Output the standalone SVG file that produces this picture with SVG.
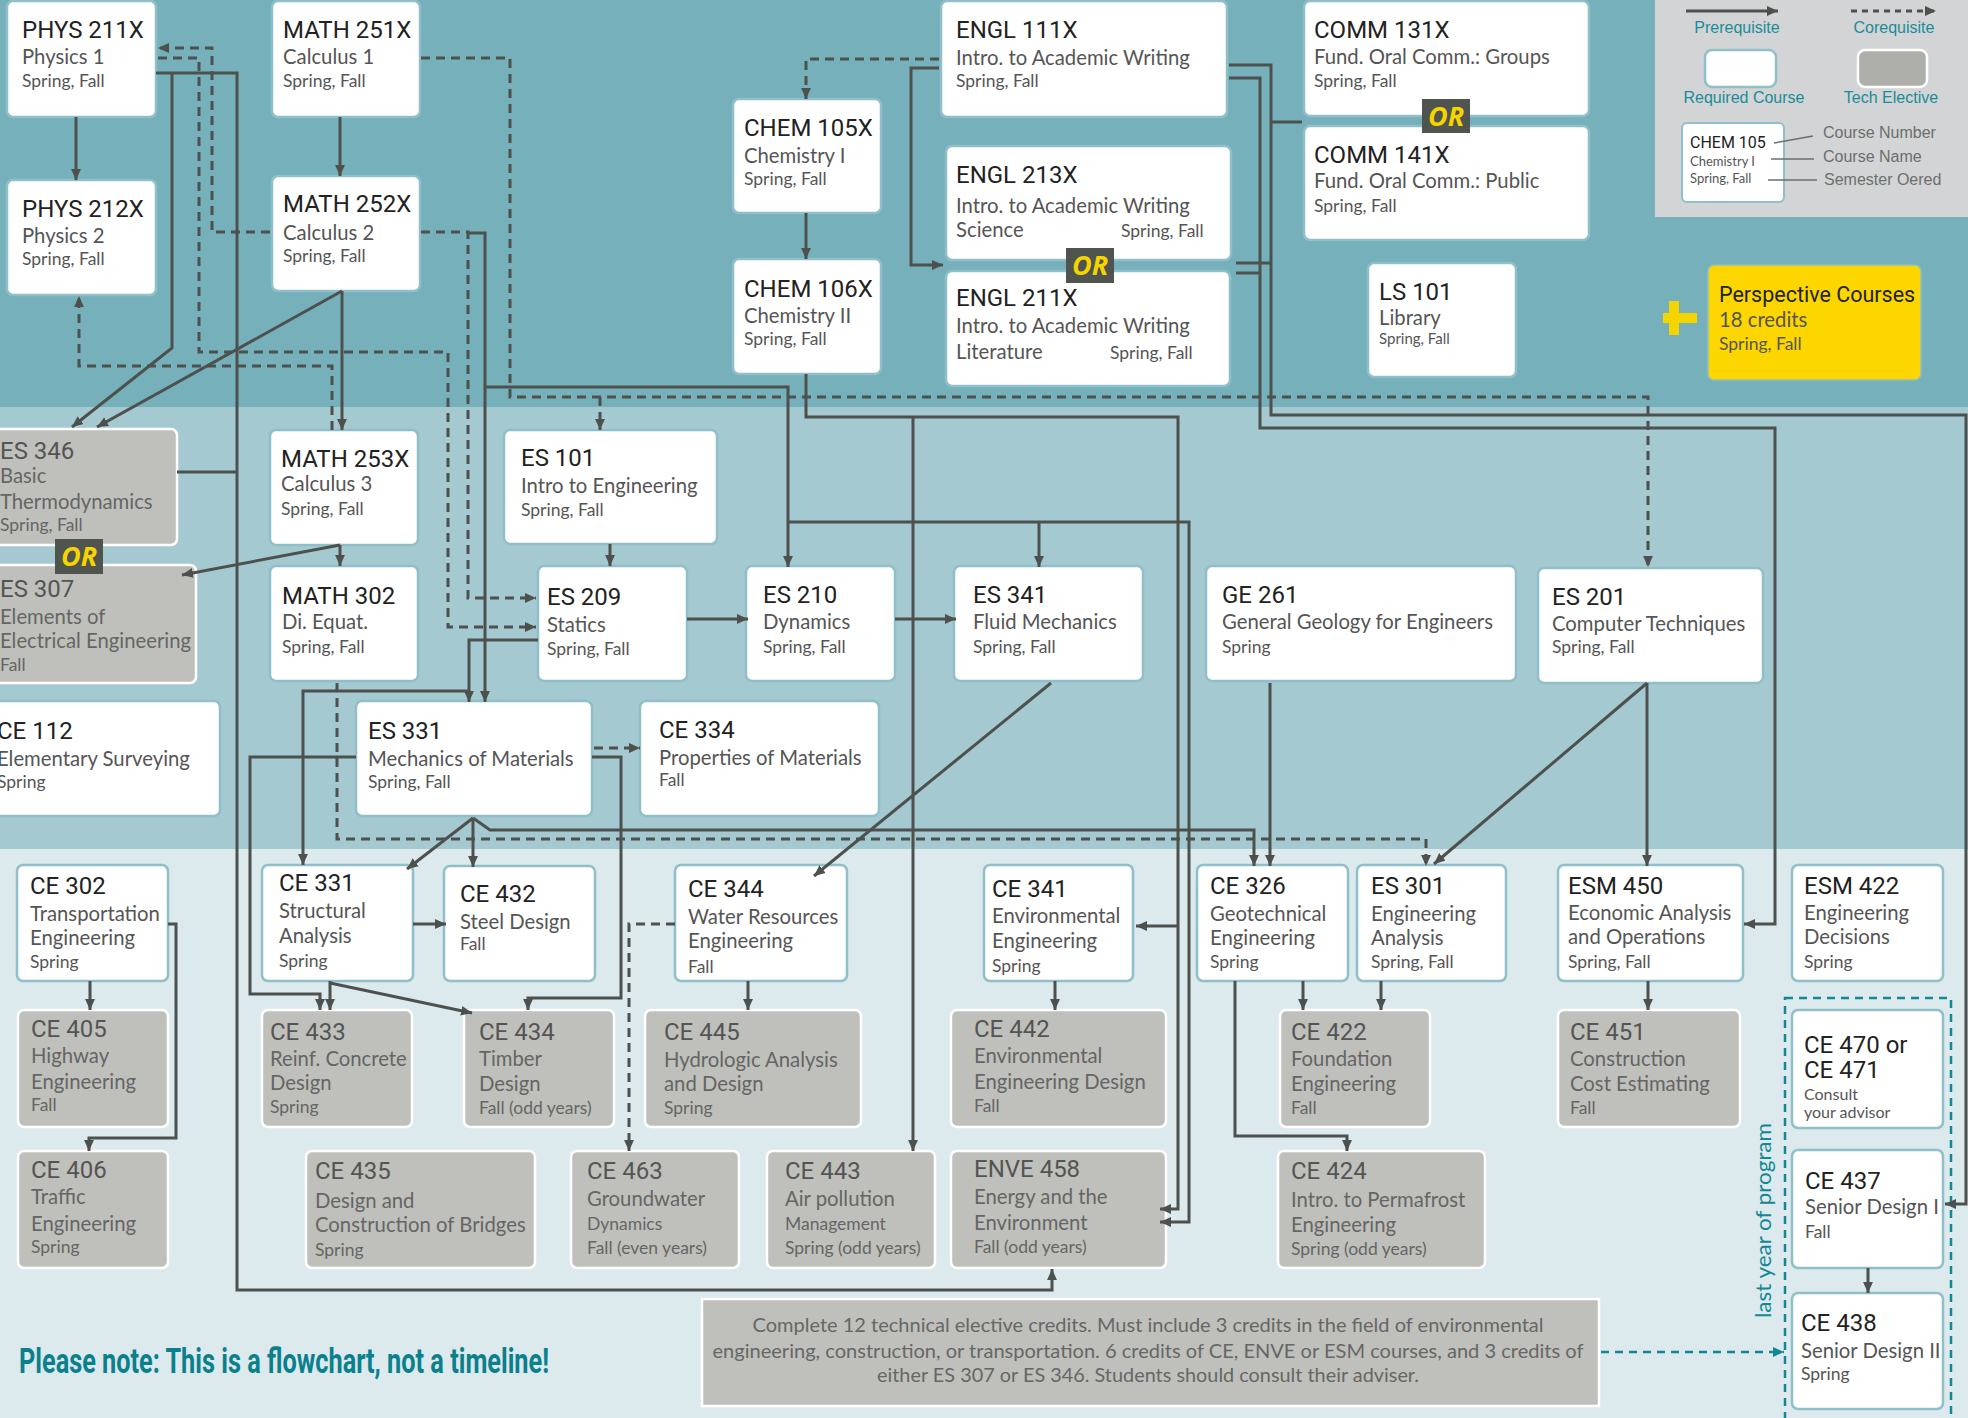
<svg xmlns="http://www.w3.org/2000/svg" width="1968" height="1418" viewBox="0 0 1968 1418">
<defs>
<style>
.n rect{fill:#fff;stroke:#8fbfc8;stroke-width:2.5}
.g rect{fill:#bfc0bb;stroke:#fff;stroke-width:2.5}
.t{font-family:Roboto,"Liberation Sans",sans-serif;font-size:24px;fill:#222}
.s{font-family:Lato,"Liberation Sans",sans-serif;font-size:20.3px;fill:#555}
.m{font-family:Lato,"Liberation Sans",sans-serif;font-size:17.5px;fill:#555}
.g .t{fill:#545454}
.g .s,.g .m{fill:#656565}
.or rect{fill:#4f544f}
.or text{font-family:"Open Sans","Liberation Sans",sans-serif;font-weight:700;font-style:italic;font-size:27px;fill:#f5d400}
.c path,.c line{fill:none;stroke:#4d514e;stroke-width:3}
.c .d{stroke-dasharray:9 6}
.lg{font-family:"Liberation Sans",Arial,sans-serif;font-size:16px;fill:#1a8c98}
.lk{font-family:"Liberation Sans",Arial,sans-serif;font-size:16px;fill:#6b6e6e}
.note{font-family:Lato,"Liberation Sans",sans-serif;font-size:20px;fill:#666}
</style>
<marker id="a" viewBox="0 0 10 10" refX="10" refY="5" markerWidth="11" markerHeight="11" markerUnits="userSpaceOnUse" orient="auto"><path d="M0,0.5 L10,5 L0,9.5 z" fill="#4d514e"/></marker>
<marker id="at" viewBox="0 0 10 10" refX="10" refY="5" markerWidth="11" markerHeight="11" markerUnits="userSpaceOnUse" orient="auto"><path d="M0,0.5 L10,5 L0,9.5 z" fill="#138894"/></marker>
</defs>

<rect x="0" y="0" width="1968" height="407" fill="#75b0bb"/>
<rect x="0" y="407" width="1968" height="442" fill="#a5c9d0"/>
<rect x="0" y="849" width="1968" height="569" fill="#dce9ed"/>

<g id="legend">
<rect x="1655" y="0" width="313" height="217" fill="#d3d4d5"/>
<line x1="1686" y1="11" x2="1778" y2="11" stroke="#4d514e" stroke-width="3" marker-end="url(#a)"/>
<line x1="1851" y1="11" x2="1936" y2="11" stroke="#4d514e" stroke-width="3" stroke-dasharray="6 5" marker-end="url(#a)"/>
<text class="lg" x="1737" y="33" text-anchor="middle">Prerequisite</text>
<text class="lg" x="1894" y="33" text-anchor="middle">Corequisite</text>
<rect x="1705" y="50" width="71" height="37" rx="7" fill="#fff" stroke="#8fbfc8" stroke-width="2.5"/>
<rect x="1858" y="50" width="69" height="37" rx="7" fill="#aeafaa" stroke="#fff" stroke-width="2.5"/>
<text class="lg" x="1744" y="103" text-anchor="middle">Required Course</text>
<text class="lg" x="1891" y="103" text-anchor="middle">Tech Elective</text>
<rect x="1682" y="123" width="102" height="79" rx="5" fill="#fff" stroke="#8fbfc8" stroke-width="2"/>
<text x="1690" y="148" font-family="Roboto,sans-serif" font-size="16" fill="#222">CHEM 105</text>
<text x="1690" y="166" font-family="Lato,sans-serif" font-size="13" fill="#555">Chemistry I</text>
<text x="1690" y="183" font-family="Lato,sans-serif" font-size="13" fill="#555">Spring, Fall</text>
<line x1="1774" y1="143" x2="1813" y2="136" stroke="#6b6e6e" stroke-width="1.5"/>
<line x1="1771" y1="159" x2="1814" y2="159" stroke="#6b6e6e" stroke-width="1.5"/>
<line x1="1768" y1="180" x2="1817" y2="180" stroke="#6b6e6e" stroke-width="1.5"/>
<text class="lk" x="1823" y="138">Course Number</text>
<text class="lk" x="1823" y="162">Course Name</text>
<text class="lk" x="1824" y="185">Semester Oered</text>
</g>

<rect id="last-year-frame" x="1785" y="998" width="166" height="430" fill="none" stroke="#138894" stroke-width="2.5" stroke-dasharray="8 6"/>
<text transform="translate(1771,1318) rotate(-90)" font-family="Lato,sans-serif" font-size="22" fill="#138894" textLength="195" lengthAdjust="spacingAndGlyphs">last year of program</text>

<!-- Top band nodes -->
<g id="phys211x" class="n"><rect x="7" y="1" width="149" height="116" rx="6"/><text class="t" x="22" y="38">PHYS 211X</text><text class="s" x="22" y="64">Physics 1</text><text class="m" x="22" y="87">Spring, Fall</text></g>
<g id="phys212x" class="n"><rect x="7" y="180" width="149" height="115" rx="6"/><text class="t" x="22" y="217">PHYS 212X</text><text class="s" x="22" y="243">Physics 2</text><text class="m" x="22" y="265">Spring, Fall</text></g>
<g id="math251x" class="n"><rect x="272" y="1" width="148" height="116" rx="6"/><text class="t" x="283" y="38">MATH 251X</text><text class="s" x="283" y="64">Calculus 1</text><text class="m" x="283" y="87">Spring, Fall</text></g>
<g id="math252x" class="n"><rect x="272" y="176" width="148" height="115" rx="6"/><text class="t" x="283" y="212">MATH 252X</text><text class="s" x="283" y="240">Calculus 2</text><text class="m" x="283" y="262">Spring, Fall</text></g>
<g id="chem105x" class="n"><rect x="733" y="99" width="148" height="114" rx="6"/><text class="t" x="744" y="136">CHEM 105X</text><text class="s" x="744" y="163">Chemistry I</text><text class="m" x="744" y="185">Spring, Fall</text></g>
<g id="chem106x" class="n"><rect x="733" y="259" width="148" height="115" rx="6"/><text class="t" x="744" y="297">CHEM 106X</text><text class="s" x="744" y="323">Chemistry II</text><text class="m" x="744" y="345">Spring, Fall</text></g>
<g id="engl111x" class="n"><rect x="941" y="1" width="286" height="116" rx="6"/><text class="t" x="956" y="38">ENGL 111X</text><text class="s" x="956" y="65">Intro. to Academic Writing</text><text class="m" x="956" y="87">Spring, Fall</text></g>
<g id="engl213x" class="n"><rect x="946" y="146" width="285" height="114" rx="6"/><text class="t" x="956" y="183">ENGL 213X</text><text class="s" x="956" y="213">Intro. to Academic Writing</text><text class="s" x="956" y="237">Science</text><text class="m" x="1121" y="237">Spring, Fall</text></g>
<g id="engl211x" class="n"><rect x="946" y="271" width="284" height="115" rx="6"/><text class="t" x="956" y="306">ENGL 211X</text><text class="s" x="956" y="333">Intro. to Academic Writing</text><text class="s" x="956" y="359">Literature</text><text class="m" x="1110" y="359">Spring, Fall</text></g>
<g id="comm131x" class="n"><rect x="1304" y="1" width="285" height="115" rx="6"/><text class="t" x="1314" y="38">COMM 131X</text><text class="s" x="1314" y="64">Fund. Oral Comm.: Groups</text><text class="m" x="1314" y="87">Spring, Fall</text></g>
<g id="comm141x" class="n"><rect x="1304" y="126" width="285" height="114" rx="6"/><text class="t" x="1314" y="163">COMM 141X</text><text class="s" x="1314" y="188">Fund. Oral Comm.: Public</text><text class="m" x="1314" y="212">Spring, Fall</text></g>
<g id="ls101" class="n"><rect x="1368" y="263" width="148" height="114" rx="6"/><text class="t" x="1379" y="300">LS 101</text><text class="s" x="1379" y="325">Library</text><text class="m" x="1379" y="344" style="font-size:15px">Spring, Fall</text></g>
<g id="perspective">
<rect x="1663" y="313" width="34" height="10" fill="#f5d500"/><rect x="1669" y="301" width="10" height="34" fill="#f5d500"/>
<rect x="1708" y="265" width="213" height="115" rx="6" fill="#fdd600" stroke="#8fbfc8" stroke-width="1.5"/>
<text class="t" x="1719" y="302" style="font-size:21.5px">Perspective Courses</text><text class="s" x="1719" y="327">18 credits</text><text class="m" x="1719" y="350">Spring, Fall</text></g>

<!-- Middle band nodes -->
<g id="es346" class="g"><rect x="-10" y="429" width="187" height="116" rx="6"/><text class="t" x="0" y="459">ES 346</text><text class="s" x="0" y="483">Basic</text><text class="s" x="0" y="509">Thermodynamics</text><text class="m" x="0" y="531">Spring, Fall</text></g>
<g id="math253x" class="n"><rect x="270" y="430" width="148" height="115" rx="6"/><text class="t" x="281" y="467">MATH 253X</text><text class="s" x="281" y="491">Calculus 3</text><text class="m" x="281" y="515">Spring, Fall</text></g>
<g id="es101" class="n"><rect x="504" y="430" width="213" height="114" rx="6"/><text class="t" x="521" y="466">ES 101</text><text class="s" x="521" y="493">Intro to Engineering</text><text class="m" x="521" y="516">Spring, Fall</text></g>
<g id="es307" class="g"><rect x="-10" y="565" width="206" height="118" rx="6"/><text class="t" x="0" y="597">ES 307</text><text class="s" x="0" y="624">Elements of</text><text class="s" x="0" y="648">Electrical Engineering</text><text class="m" x="0" y="671">Fall</text></g>
<g id="math302" class="n"><rect x="270" y="566" width="148" height="115" rx="6"/><text class="t" x="282" y="604">MATH 302</text><text class="s" x="282" y="629">Di. Equat.</text><text class="m" x="282" y="653">Spring, Fall</text></g>
<g id="es209" class="n"><rect x="538" y="566" width="149" height="115" rx="6"/><text class="t" x="547" y="605">ES 209</text><text class="s" x="547" y="632">Statics</text><text class="m" x="547" y="655">Spring, Fall</text></g>
<g id="es210" class="n"><rect x="746" y="566" width="149" height="115" rx="6"/><text class="t" x="763" y="603">ES 210</text><text class="s" x="763" y="629">Dynamics</text><text class="m" x="763" y="653">Spring, Fall</text></g>
<g id="es341" class="n"><rect x="954" y="566" width="189" height="115" rx="6"/><text class="t" x="973" y="603">ES 341</text><text class="s" x="973" y="629">Fluid Mechanics</text><text class="m" x="973" y="653">Spring, Fall</text></g>
<g id="ge261" class="n"><rect x="1206" y="566" width="310" height="115" rx="6"/><text class="t" x="1222" y="603">GE 261</text><text class="s" x="1222" y="629">General Geology for Engineers</text><text class="m" x="1222" y="653">Spring</text></g>
<g id="es201" class="n"><rect x="1538" y="568" width="225" height="115" rx="6"/><text class="t" x="1552" y="605">ES 201</text><text class="s" x="1552" y="631">Computer Techniques</text><text class="m" x="1552" y="653">Spring, Fall</text></g>
<g id="ce112" class="n"><rect x="-10" y="701" width="230" height="115" rx="6"/><text class="t" x="-3" y="739">CE 112</text><text class="s" x="-3" y="766">Elementary Surveying</text><text class="m" x="-3" y="788">Spring</text></g>
<g id="es331" class="n"><rect x="356" y="701" width="236" height="115" rx="6"/><text class="t" x="368" y="739">ES 331</text><text class="s" x="368" y="766">Mechanics of Materials</text><text class="m" x="368" y="788">Spring, Fall</text></g>
<g id="ce334" class="n"><rect x="640" y="701" width="239" height="115" rx="6"/><text class="t" x="659" y="738">CE 334</text><text class="s" x="659" y="765">Properties of Materials</text><text class="m" x="659" y="786">Fall</text></g>

<!-- Bottom band nodes -->
<g id="ce302" class="n"><rect x="17" y="865" width="151" height="116" rx="6"/><text class="t" x="30" y="894">CE 302</text><text class="s" x="30" y="921">Transportation</text><text class="s" x="30" y="945">Engineering</text><text class="m" x="30" y="968">Spring</text></g>
<g id="ce331" class="n"><rect x="262" y="865" width="151" height="116" rx="6"/><text class="t" x="279" y="891">CE 331</text><text class="s" x="279" y="918">Structural</text><text class="s" x="279" y="943">Analysis</text><text class="m" x="279" y="967">Spring</text></g>
<g id="ce432" class="n"><rect x="444" y="866" width="151" height="115" rx="6"/><text class="t" x="460" y="902">CE 432</text><text class="s" x="460" y="929">Steel Design</text><text class="m" x="460" y="950">Fall</text></g>
<g id="ce344" class="n"><rect x="675" y="865" width="172" height="116" rx="6"/><text class="t" x="688" y="897">CE 344</text><text class="s" x="688" y="924">Water Resources</text><text class="s" x="688" y="948">Engineering</text><text class="m" x="688" y="973">Fall</text></g>
<g id="ce341" class="n"><rect x="984" y="865" width="149" height="116" rx="6"/><text class="t" x="992" y="897">CE 341</text><text class="s" x="992" y="923">Environmental</text><text class="s" x="992" y="948">Engineering</text><text class="m" x="992" y="972">Spring</text></g>
<g id="ce326" class="n"><rect x="1197" y="865" width="151" height="116" rx="6"/><text class="t" x="1210" y="894">CE 326</text><text class="s" x="1210" y="921">Geotechnical</text><text class="s" x="1210" y="945">Engineering</text><text class="m" x="1210" y="968">Spring</text></g>
<g id="es301" class="n"><rect x="1357" y="865" width="149" height="116" rx="6"/><text class="t" x="1371" y="894">ES 301</text><text class="s" x="1371" y="921">Engineering</text><text class="s" x="1371" y="945">Analysis</text><text class="m" x="1371" y="968">Spring, Fall</text></g>
<g id="esm450" class="n"><rect x="1558" y="865" width="185" height="116" rx="6"/><text class="t" x="1568" y="894">ESM 450</text><text class="s" x="1568" y="920">Economic Analysis</text><text class="s" x="1568" y="944">and Operations</text><text class="m" x="1568" y="968">Spring, Fall</text></g>
<g id="esm422" class="n"><rect x="1792" y="865" width="151" height="116" rx="6"/><text class="t" x="1804" y="894">ESM 422</text><text class="s" x="1804" y="920">Engineering</text><text class="s" x="1804" y="944">Decisions</text><text class="m" x="1804" y="968">Spring</text></g>

<g id="ce405" class="g"><rect x="18" y="1010" width="150" height="117" rx="6"/><text class="t" x="31" y="1037">CE 405</text><text class="s" x="31" y="1063">Highway</text><text class="s" x="31" y="1089">Engineering</text><text class="m" x="31" y="1111">Fall</text></g>
<g id="ce433" class="g"><rect x="262" y="1010" width="150" height="117" rx="6"/><text class="t" x="270" y="1040">CE 433</text><text class="s" x="270" y="1066">Reinf. Concrete</text><text class="s" x="270" y="1090">Design</text><text class="m" x="270" y="1113">Spring</text></g>
<g id="ce434" class="g"><rect x="464" y="1010" width="150" height="117" rx="6"/><text class="t" x="479" y="1040">CE 434</text><text class="s" x="479" y="1066">Timber</text><text class="s" x="479" y="1091">Design</text><text class="m" x="479" y="1114">Fall (odd years)</text></g>
<g id="ce445" class="g"><rect x="645" y="1010" width="216" height="117" rx="6"/><text class="t" x="664" y="1040">CE 445</text><text class="s" x="664" y="1067">Hydrologic Analysis</text><text class="s" x="664" y="1091">and Design</text><text class="m" x="664" y="1114">Spring</text></g>
<g id="ce442" class="g"><rect x="951" y="1010" width="215" height="117" rx="6"/><text class="t" x="974" y="1037">CE 442</text><text class="s" x="974" y="1063">Environmental</text><text class="s" x="974" y="1089">Engineering Design</text><text class="m" x="974" y="1112">Fall</text></g>
<g id="ce422" class="g"><rect x="1280" y="1010" width="150" height="117" rx="6"/><text class="t" x="1291" y="1040">CE 422</text><text class="s" x="1291" y="1066">Foundation</text><text class="s" x="1291" y="1091">Engineering</text><text class="m" x="1291" y="1114">Fall</text></g>
<g id="ce451" class="g"><rect x="1558" y="1010" width="182" height="117" rx="6"/><text class="t" x="1570" y="1040">CE 451</text><text class="s" x="1570" y="1066">Construction</text><text class="s" x="1570" y="1091">Cost Estimating</text><text class="m" x="1570" y="1114">Fall</text></g>
<g id="ce470" class="n"><rect x="1792" y="1010" width="151" height="118" rx="6"/><text class="t" x="1804" y="1053">CE 470 or</text><text class="t" x="1804" y="1078">CE 471</text><text class="m" x="1804" y="1100" style="font-size:16px">Consult</text><text class="m" x="1804" y="1118" style="font-size:16px">your advisor</text></g>
<g id="ce406" class="g"><rect x="18" y="1151" width="150" height="117" rx="6"/><text class="t" x="31" y="1178">CE 406</text><text class="s" x="31" y="1204">Traffic</text><text class="s" x="31" y="1231">Engineering</text><text class="m" x="31" y="1253">Spring</text></g>
<g id="ce435" class="g"><rect x="306" y="1151" width="229" height="117" rx="6"/><text class="t" x="315" y="1179">CE 435</text><text class="s" x="315" y="1208">Design and</text><text class="s" x="315" y="1232">Construction of Bridges</text><text class="m" x="315" y="1256">Spring</text></g>
<g id="ce463" class="g"><rect x="571" y="1151" width="168" height="117" rx="6"/><text class="t" x="587" y="1179">CE 463</text><text class="s" x="587" y="1206">Groundwater</text><text class="m" x="587" y="1230">Dynamics</text><text class="m" x="587" y="1254">Fall (even years)</text></g>
<g id="ce443" class="g"><rect x="767" y="1151" width="168" height="117" rx="6"/><text class="t" x="785" y="1179">CE 443</text><text class="s" x="785" y="1206">Air pollution</text><text class="m" x="785" y="1230">Management</text><text class="m" x="785" y="1254">Spring (odd years)</text></g>
<g id="enve458" class="g"><rect x="951" y="1151" width="215" height="117" rx="6"/><text class="t" x="974" y="1177">ENVE 458</text><text class="s" x="974" y="1204">Energy and the</text><text class="s" x="974" y="1230">Environment</text><text class="m" x="974" y="1253">Fall (odd years)</text></g>
<g id="ce424" class="g"><rect x="1278" y="1151" width="207" height="117" rx="6"/><text class="t" x="1291" y="1179">CE 424</text><text class="s" x="1291" y="1207">Intro. to Permafrost</text><text class="s" x="1291" y="1232">Engineering</text><text class="m" x="1291" y="1255">Spring (odd years)</text></g>
<g id="ce437" class="n"><rect x="1792" y="1150" width="151" height="118" rx="6"/><text class="t" x="1805" y="1189">CE 437</text><text class="s" x="1805" y="1214">Senior Design I</text><text class="m" x="1805" y="1238">Fall</text></g>
<g id="ce438" class="n"><rect x="1792" y="1293" width="151" height="116" rx="6"/><text class="t" x="1801" y="1331">CE 438</text><text class="s" x="1801" y="1358">Senior Design II</text><text class="m" x="1801" y="1380">Spring</text></g>

<g id="note">
<rect x="702" y="1299" width="897" height="107" fill="#bfc0bb" stroke="#fff" stroke-width="2.5"/>
<text class="note" x="1148" y="1332" text-anchor="middle" textLength="791" lengthAdjust="spacingAndGlyphs">Complete 12 technical elective credits. Must include 3 credits in the field of environmental</text>
<text class="note" x="1148" y="1358" text-anchor="middle" textLength="871" lengthAdjust="spacingAndGlyphs">engineering, construction, or transportation. 6 credits of CE, ENVE or ESM courses, and 3 credits of</text>
<text class="note" x="1148" y="1382" text-anchor="middle" textLength="542" lengthAdjust="spacingAndGlyphs">either ES 307 or ES 346. Students should consult their adviser.</text>
</g>

<g id="connectors" class="c">
<!-- top band -->
<line x1="76" y1="117" x2="76" y2="180" marker-end="url(#a)"/>
<line x1="340" y1="117" x2="340" y2="176" marker-end="url(#a)"/>
<line x1="806" y1="213" x2="806" y2="259" marker-end="url(#a)"/>
<path class="d" d="M270,232 H212 V48 H158" marker-end="url(#a)"/>
<path class="d" d="M158,58 H199 V352 H448 V627 H536" marker-end="url(#a)"/>
<path class="d" d="M332,430 V366 H79 V296" marker-end="url(#a)"/>
<path class="d" d="M421,232 H468 V598 H536" marker-end="url(#a)"/>
<path class="d" d="M421,58 H510 V397 H1648 V567" marker-end="url(#a)"/>
<path class="d" d="M600,397 V430" marker-end="url(#a)"/>
<path class="d" d="M939,59 H806 V99" marker-end="url(#a)"/>
<path d="M939,68 H911 V265 H943" marker-end="url(#a)"/>
<path d="M156,73 H237 V1290 H1052 V1269" marker-end="url(#a)"/>
<path d="M172,73 V348 L72,427" marker-end="url(#a)"/>
<path d="M342,291 L97,427" marker-end="url(#a)"/>
<path d="M342,291 V430" marker-end="url(#a)"/>
<path d="M177,472 H237"/>
<path d="M468,233 H485 V702" marker-end="url(#a)"/>
<path d="M485,387 H788 V567" marker-end="url(#a)"/>
<path d="M788,522 H1189 V1222 H1160" marker-end="url(#a)"/>
<path d="M1039,522 V567" marker-end="url(#a)"/>
<path d="M806,374 V417 H1178 V1209 H1160" marker-end="url(#a)"/>
<path d="M913,417 V1151" marker-end="url(#a)"/>
<path d="M1178,926 H1136" marker-end="url(#a)"/>
<path d="M1229,65 H1271 V415 H1966 V1204 H1945" marker-end="url(#a)"/>
<path d="M1236,263 H1271"/>
<path d="M1271,122 H1302"/>
<path d="M1229,78 H1260 V428 H1775 V924 H1744" marker-end="url(#a)"/>
<path d="M1236,273 H1260"/>
<!-- middle band -->
<path d="M340,545 V566" marker-end="url(#a)"/>
<path d="M340,545 L182,575" marker-end="url(#a)"/>
<path d="M610,544 V566" marker-end="url(#a)"/>
<path d="M687,619 H748" marker-end="url(#a)"/>
<path d="M895,619 H956" marker-end="url(#a)"/>
<path d="M538,640 H469 V702" marker-end="url(#a)"/>
<path d="M469,691 H303 V865" marker-end="url(#a)"/>
<path class="d" d="M337,683 V839 H1426 V866" marker-end="url(#a)"/>
<path d="M473,818 L490,830 H1254 V866" marker-end="url(#a)"/>
<path d="M473,818 L407,869" marker-end="url(#a)"/>
<path d="M473,818 V867" marker-end="url(#a)"/>
<path class="d" d="M594,748 H640" marker-end="url(#a)"/>
<path d="M1051,683 L814,876" marker-end="url(#a)"/>
<path d="M1270,683 V866" marker-end="url(#a)"/>
<path d="M1647,683 V866" marker-end="url(#a)"/>
<path d="M1647,683 L1434,864" marker-end="url(#a)"/>
<!-- bottom band -->
<path d="M90,981 V1010" marker-end="url(#a)"/>
<path d="M168,924 H176 V1138 H89 V1151" marker-end="url(#a)"/>
<path d="M413,924 H446" marker-end="url(#a)"/>
<path d="M330,981 V1010" marker-end="url(#a)"/>
<path d="M330,983 L472,1013" marker-end="url(#a)"/>
<path d="M356,757 H250 V994 H320 V1010" marker-end="url(#a)"/>
<path d="M592,757 H621 V998 H528 V1010" marker-end="url(#a)"/>
<path d="M748,981 V1010" marker-end="url(#a)"/>
<path class="d" d="M675,924 H629 V1151" marker-end="url(#a)"/>
<path d="M1055,981 V1010" marker-end="url(#a)"/>
<path d="M1303,981 V1010" marker-end="url(#a)"/>
<path d="M1381,981 V1010" marker-end="url(#a)"/>
<path d="M1235,981 V1136 H1347 V1151" marker-end="url(#a)"/>
<path d="M1648,981 V1010" marker-end="url(#a)"/>
<path d="M1868,1268 V1293" marker-end="url(#a)"/>
<path d="M1601,1352 H1784" style="stroke:#138894;stroke-width:2.5;stroke-dasharray:8 6" marker-end="url(#at)"/>
</g>

<g id="or1" class="or"><rect x="55" y="539" width="48" height="35"/><text x="79" y="566" text-anchor="middle">OR</text></g>
<g id="or2" class="or"><rect x="1066" y="248" width="48" height="35"/><text x="1090" y="275" text-anchor="middle">OR</text></g>
<g id="or3" class="or"><rect x="1422" y="99" width="48" height="34"/><text x="1446" y="126" text-anchor="middle">OR</text></g>

<text x="19" y="1373" font-family="Roboto,'Liberation Sans',sans-serif" font-weight="700" font-size="35" fill="#0b808d" textLength="530" lengthAdjust="spacingAndGlyphs">Please note: This is a flowchart, not a timeline!</text>
</svg>
